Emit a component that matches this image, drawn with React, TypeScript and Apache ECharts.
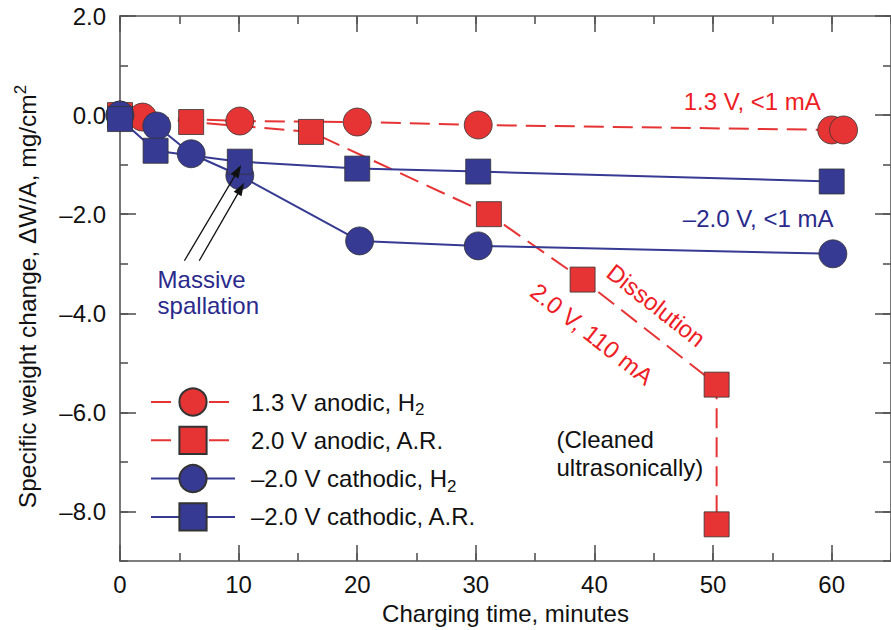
import React, { useEffect, useRef } from 'react';
import * as echarts from 'echarts';

// ---------- data ----------
const xMajorTicks = [0, 10, 20, 30, 40, 50, 60];
const yMajorTicks = [-8, -6, -4, -2, 0, 2];

const seriesNames = [
  '1.3 V anodic, H2',
  '2.0 V anodic, A.R.',
  '\u20132.0 V cathodic, H2',
  '\u20132.0 V cathodic, A.R.',
];

const anodicH2: [number, number][] = [
  [0, 0], [1.9, -0.04], [10.1, -0.12], [20, -0.14], [30.2, -0.2], [60, -0.3], [61, -0.3],
];
const anodicAR: [number, number][] = [
  [0, 0], [6, -0.14], [16.1, -0.34], [31.1, -2.0], [39, -3.32], [50.3, -5.44], [50.3, -8.26],
];
const cathodicH2: [number, number][] = [
  [0, 0], [3.1, -0.22], [6, -0.78], [10.1, -1.22], [20.2, -2.54], [30.2, -2.64], [60.1, -2.8],
];
const cathodicAR: [number, number][] = [
  [0, -0.08], [3, -0.72], [10.1, -0.94], [20, -1.08], [30.2, -1.14], [60, -1.34],
];

// arrows (data coordinates): [start, end]
const arrows: [[number, number], [number, number]][] = [
  [[5.43, -2.94], [9.94, -1.12]],
  [[6.68, -2.94], [10.19, -1.48]],
];

// annotation texts (data coordinates)
const notes = [
  { text: '1.3 V, <1 mA', at: [53.3, 0.28], color: 'red', align: 'center', rot: 0 },
  { text: '\u20132.0 V, <1 mA', at: [53.8, -2.08], color: 'navy', align: 'center', rot: 0 },
  { text: 'Massive', at: [3.17, -3.32], color: 'navy', align: 'left', rot: 0 },
  { text: 'spallation', at: [3.17, -3.84], color: 'navy', align: 'left', rot: 0 },
  { text: '(Cleaned', at: [36.8, -6.54], color: 'black', align: 'left', rot: 0 },
  { text: 'ultrasonically)', at: [36.8, -7.12], color: 'black', align: 'left', rot: 0 },
  { text: 'Dissolution', at: [45.2, -3.84], color: 'red', align: 'center', rot: -0.665 },
  { text: '2.0 V, 110 mA', at: [39.8, -4.42], color: 'red', align: 'center', rot: -0.665 },
];

// ---------- styles ----------
const FONT = "'Liberation Sans', Arial, Helvetica, sans-serif";
const FS = 24;
const RED = '#E63434';
const BLUE = '#363A92';
const TEXT_COLORS: Record<string, string> = { red: '#EE1C24', navy: '#2A2A8C', black: '#111111' };
const AXIS_COLOR = '#555555';

const axisLineStyle = { color: AXIS_COLOR, width: 1.6 };

function yFmt(v: number) {
  if (v === 0) return '0.0';
  return v < 0 ? '\u2013' + Math.abs(v).toFixed(1) : v.toFixed(1);
}

function xAxisDef(position: 'bottom' | 'top', major: boolean, withLabels: boolean): any {
  const base: any = {
    type: 'value',
    min: 0,
    max: 65,
    position,
    splitLine: { show: false },
    axisLine: { show: major, onZero: false, lineStyle: axisLineStyle },
    axisTick: major
      ? { show: true, inside: true, length: 16, customValues: xMajorTicks, lineStyle: axisLineStyle }
      : { show: true, inside: true, length: 8, lineStyle: axisLineStyle },
    axisLabel: withLabels
      ? { show: true, customValues: xMajorTicks, fontSize: FS, fontFamily: FONT, color: '#111', margin: 11 }
      : { show: false },
  };
  if (!major) base.interval = 5;
  if (withLabels) {
    base.name = 'Charging time, minutes';
    base.nameLocation = 'middle';
    base.nameGap = 40;
    base.nameTextStyle = { fontSize: FS, fontFamily: FONT, color: '#111' };
  }
  return base;
}

function yAxisDef(position: 'left' | 'right', major: boolean, withLabels: boolean): any {
  const base: any = {
    type: 'value',
    min: -9,
    max: 2,
    position,
    splitLine: { show: false },
    axisLine: { show: major, onZero: false, lineStyle: axisLineStyle },
    axisTick: major
      ? { show: true, inside: true, length: 16, customValues: yMajorTicks, lineStyle: axisLineStyle }
      : { show: true, inside: true, length: 8, lineStyle: axisLineStyle },
    axisLabel: withLabels
      ? { show: true, customValues: yMajorTicks, formatter: yFmt, fontSize: FS, fontFamily: FONT, color: '#111', margin: 14 }
      : { show: false },
  };
  if (!major) base.interval = 1;
  if (withLabels) {
    base.name = 'Specific weight change, \u0394W/A, mg/cm{sup|2}';
    base.nameLocation = 'middle';
    base.nameGap = 78;
    base.nameRotate = 90;
    base.nameTextStyle = {
      fontSize: 24.5,
      fontFamily: FONT,
      color: '#111',
      lineHeight: 30,
      padding: [0, 16, 0, 0],
      rich: { sup: { fontSize: 17, fontFamily: FONT, color: '#111', verticalAlign: 'top' } },
    };
  }
  return base;
}

function lineSeries(name: string, data: [number, number][], color: string, dashed: boolean, symbol: string, size: number, extra: any = {}): any {
  return {
    name,
    type: 'line',
    data,
    xAxisIndex: 0,
    yAxisIndex: 0,
    clip: false,
    symbol,
    symbolSize: size,
    showSymbol: true,
    lineStyle: { color, width: 2, type: dashed ? [20, 9] : 'solid' },
    itemStyle: { color, borderColor: '#333', borderWidth: 0.8 },
    emphasis: { disabled: true },
    ...extra,
  };
}

export default function App() {
  const ref = useRef<HTMLDivElement>(null);

  useEffect(() => {
    const chart = echarts.init(ref.current!, null, { renderer: 'svg' });

    const option: any = {
      animation: false,
      backgroundColor: '#ffffff',
      grid: { left: 120, top: 16, right: -7, bottom: 67, containLabel: false },
      xAxis: [
        xAxisDef('bottom', true, true),
        xAxisDef('bottom', false, false),
        xAxisDef('top', true, false),
        xAxisDef('top', false, false),
      ],
      yAxis: [
        yAxisDef('left', true, true),
        yAxisDef('left', false, false),
        yAxisDef('right', true, false),
        yAxisDef('right', false, false),
      ],
      legend: {
        show: true,
        orient: 'vertical',
        left: 150,
        top: 386,
        padding: 0,
        itemWidth: 84,
        itemHeight: 34,
        itemGap: 6.3,
        data: seriesNames,
        formatter: (name: string) => name.replace(/H2$/, 'H{sub|2}'),
        textStyle: {
          fontSize: FS,
          fontFamily: FONT,
          color: '#111',
          padding: [0, 0, 0, 11],
          lineHeight: 32,
          rich: {
            sub: { fontSize: 17, fontFamily: FONT, color: '#111', verticalAlign: 'bottom' },
          },
        },
      },
      series: [
        lineSeries(seriesNames[0], anodicH2, RED, true, 'circle', 28),
        lineSeries(seriesNames[1], anodicAR, RED, true, 'rect', 25),
        lineSeries(seriesNames[2], cathodicH2, BLUE, false, 'circle', 28),
        lineSeries(seriesNames[3], cathodicAR, BLUE, false, 'rect', 25, {
          markLine: {
            silent: true,
            symbol: ['none', 'triangle'],
            symbolSize: [9, 13],
            label: { show: false },
            emphasis: { disabled: true },
            lineStyle: { color: '#111', width: 1.3, type: 'solid' },
            data: arrows.map(([s, e]) => [{ coord: s }, { coord: e }]),
          },
        }),
      ],
    };

    chart.setOption(option);

    const graphics = notes.map((n) => {
      const p = chart.convertToPixel({ seriesIndex: 0 }, n.at) as number[];
      return {
        type: 'text',
        x: p[0],
        y: p[1],
        rotation: n.rot,
        z: 100,
        style: {
          text: n.text,
          fill: TEXT_COLORS[n.color],
          fontSize: FS,
          fontFamily: FONT,
          align: n.align,
          verticalAlign: 'middle',
          textAlign: n.align,
          textVerticalAlign: 'middle',
        },
      };
    });
    chart.setOption({ graphic: graphics });

    return () => chart.dispose();
  }, []);

  return (
    <div
      ref={ref}
      style={{ position: 'absolute', left: 0, top: 0, width: 891, height: 630, background: '#fff' }}
    />
  );
}
